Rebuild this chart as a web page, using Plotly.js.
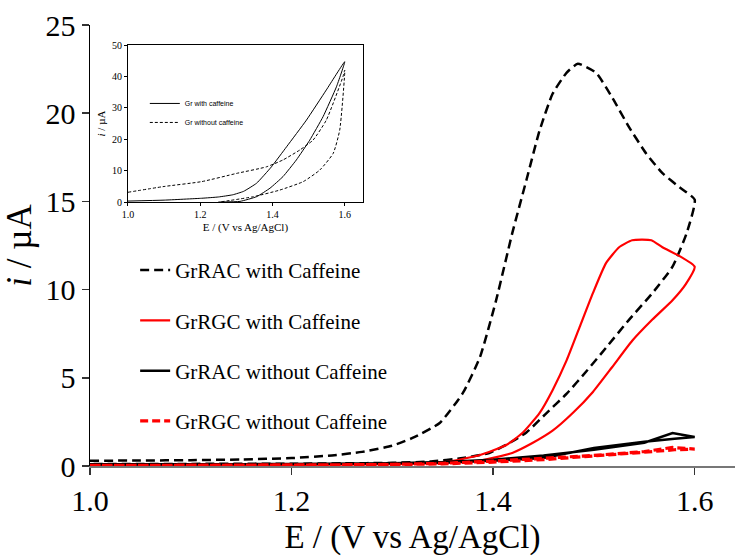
<!DOCTYPE html>
<html>
<head>
<meta charset="utf-8">
<script src="https://cdn.plot.ly/plotly-3.0.1.min.js"></script>
<style>html,body{margin:0;padding:0;background:#fff;}#chart{width:735px;height:556px;}</style>
</head>
<body>
<div id="chart"></div>
<script>
// ---- Main chart data (E in V vs Ag/AgCl, i in µA) ----
const legendNames = ["GrRAC with Caffeine", "GrRGC with Caffeine", "GrRAC without Caffeine", "GrRGC without Caffeine"];

const racCafE = [1.00,1.05,1.10,1.15,1.20,1.24,1.27,1.30,1.32,1.347,1.37,1.387,1.403,1.419,1.433,1.446,1.459,1.473,1.484,1.502,1.518,1.535,1.552,1.568,1.585,1.600,
                 1.592,1.578,1.558,1.535,1.512,1.493,1.473,1.453,1.433,1.413,1.396,1.37,1.337,1.30,1.25,1.20,1.10,1.00];
const racCafI = [0.30,0.31,0.33,0.37,0.45,0.60,0.80,1.15,1.59,2.44,4.14,6.18,9.4,13.2,16.2,19.0,21.1,22.3,22.8,22.3,20.9,19.2,17.7,16.6,15.8,15.1,
                 13.2,11.3,9.8,8.3,6.7,5.4,4.1,3.0,1.9,1.2,0.74,0.45,0.25,0.18,0.15,0.13,0.12,0.12];

const rgcCafE = [1.00,1.10,1.20,1.28,1.32,1.354,1.387,1.413,1.429,1.446,1.459,1.473,1.486,1.499,1.512,1.525,1.538,1.557,1.568,1.585,1.600,
                 1.591,1.578,1.558,1.538,1.518,1.499,1.479,1.459,1.439,1.419,1.387,1.354,1.30,1.20,1.10,1.00];
const rgcCafI = [0.05,0.05,0.06,0.09,0.14,0.24,0.62,1.19,1.87,3.0,4.3,6.0,7.9,9.8,11.5,12.4,12.8,12.8,12.4,11.9,11.3,
                 10.3,9.4,8.3,7.1,5.6,4.2,3.0,2.0,1.3,0.74,0.30,0.17,0.10,0.06,0.05,0.05];

const racNoE = [1.00,1.10,1.20,1.30,1.35,1.40,1.45,1.50,1.55,1.578,1.600,
                1.58,1.55,1.50,1.45,1.40,1.35,1.30,1.20,1.10,1.00];
const racNoI = [0.10,0.10,0.12,0.16,0.22,0.35,0.60,0.92,1.32,1.87,1.64,
                1.55,1.38,1.02,0.45,0.30,0.20,0.15,0.10,0.08,0.08];

const rgcNoE = [1.00,1.10,1.20,1.30,1.35,1.40,1.45,1.50,1.55,1.578,1.600,
                1.58,1.55,1.50,1.45,1.40,1.35,1.30,1.20,1.10,1.00];
const rgcNoI = [0.03,0.03,0.05,0.09,0.15,0.28,0.42,0.60,0.82,1.05,0.96,
                0.92,0.78,0.56,0.36,0.22,0.12,0.08,0.05,0.03,0.03];

// ---- Inset data ----
const insetNames = ["Gr with caffeine", "Gr without caffeine"];
const grCafE = [1.00,1.10,1.204,1.25,1.29,1.32,1.356,1.397,1.439,1.494,1.549,1.600,
                1.577,1.54,1.503,1.466,1.429,1.393,1.356,1.31,1.25];
const grCafI = [0.3,0.6,1.2,1.6,2.3,3.4,6.0,11.2,17.6,26.1,35.7,44.7,
                36.7,27.2,19.7,13.4,8.1,4.4,1.7,0.2,0.0];
const grNoE = [1.00,1.097,1.204,1.30,1.383,1.429,1.476,1.512,1.549,1.595,1.600,
               1.586,1.568,1.531,1.485,1.42,1.347,1.254];
const grNoI = [3.1,4.9,6.5,9.1,11.2,13.4,16.6,19.7,26.1,39.9,42.0,
               22.9,15.5,10.2,6.5,3.8,1.7,0.0];

const serif = "Times New Roman, Liberation Serif, serif";

const traces = [
  {x: racCafE, y: racCafI, name: legendNames[0], mode: "lines", legendgroup: "a",
   line: {color: "#000", width: 2.5, dash: "9px,5px", shape: "spline", smoothing: 0.5}},
  {x: rgcCafE, y: rgcCafI, name: legendNames[1], mode: "lines", legendgroup: "b",
   line: {color: "#ff0000", width: 2.2, shape: "spline", smoothing: 0.5}},
  {x: racNoE, y: racNoI, name: legendNames[2], mode: "lines", legendgroup: "c",
   line: {color: "#000", width: 2.5}},
  {x: rgcNoE, y: rgcNoI, name: legendNames[3], mode: "lines", legendgroup: "d",
   line: {color: "#ff0000", width: 3.2, dash: "8px,4px"}},
  {x: grCafE, y: grCafI, name: insetNames[0], mode: "lines", xaxis: "x2", yaxis: "y2", legend: "legend2",
   line: {color: "#000", width: 1, shape: "spline", smoothing: 0.4}},
  {x: grNoE, y: grNoI, name: insetNames[1], mode: "lines", xaxis: "x2", yaxis: "y2", legend: "legend2",
   line: {color: "#000", width: 1, dash: "3px,2px", shape: "spline", smoothing: 0.5}}
];

const layout = {
  width: 735, height: 556,
  margin: {l: 90, r: 0, t: 25, b: 90},
  paper_bgcolor: "#fff", plot_bgcolor: "#fff",
  font: {family: serif, color: "#000"},
  showlegend: true,
  xaxis: {
    range: [1.0, 1.64], tickvals: [1.0, 1.2, 1.4, 1.6], ticktext: ["1.0","1.2","1.4","1.6"],
    showgrid: false, zeroline: false, showline: true, linecolor: "#777", linewidth: 2,
    ticks: "outside", ticklen: 7, tickwidth: 1.5, tickcolor: "#333",
    tickfont: {family: serif, size: 30, color: "#000"},
    title: {text: "E / (V vs Ag/AgCl)", font: {family: serif, size: 33, color: "#000"}, standoff: 10}
  },
  yaxis: {
    range: [0, 25], tickvals: [0,5,10,15,20,25],
    showgrid: false, zeroline: false, showline: true, linecolor: "#000", linewidth: 1.5,
    ticks: "outside", ticklen: 7, tickwidth: 1.5, tickcolor: "#333",
    tickfont: {family: serif, size: 30, color: "#000"},
    title: {text: "<i>i</i> / µA", font: {family: serif, size: 35, color: "#000"}, standoff: 10}
  },
  xaxis2: {
    domain: [0.0589, 0.423], anchor: "y2", range: [1.0, 1.65],
    tickvals: [1.0,1.2,1.4,1.6], ticktext: ["1.0","1.2","1.4","1.6"],
    showgrid: false, zeroline: false, showline: true, mirror: true, linecolor: "#000", linewidth: 1,
    ticks: "outside", ticklen: 3, tickcolor: "#000",
    tickfont: {family: serif, size: 10, color: "#000"},
    title: {text: "E / (V vs Ag/AgCl)", font: {family: serif, size: 11, color: "#000"}, standoff: 4}
  },
  yaxis2: {
    domain: [0.5986, 0.9546], anchor: "x2", range: [0, 50],
    tickvals: [0,10,20,30,40,50],
    showgrid: false, zeroline: false, showline: true, mirror: true, linecolor: "#000", linewidth: 1,
    ticks: "outside", ticklen: 3, tickcolor: "#000",
    tickfont: {family: serif, size: 10, color: "#000"},
    title: {text: "<i>i</i> / µA", font: {family: serif, size: 11, color: "#000"}, standoff: 4}
  },
  legend: {
    x: 0.07, y: 0.49, xanchor: "left", yanchor: "top",
    bgcolor: "rgba(0,0,0,0)", tracegroupgap: 20,
    font: {family: serif, size: 21, color: "#000"}
  },
  legend2: {
    x: 0.085, y: 0.855, xanchor: "left", yanchor: "top",
    bgcolor: "rgba(0,0,0,0)", tracegroupgap: 0,
    font: {family: "Liberation Sans, Arial, sans-serif", size: 7, color: "#000"}
  }
};

Plotly.newPlot("chart", traces, layout, {displayModeBar: false, staticPlot: true});
</script>
</body>
</html>
